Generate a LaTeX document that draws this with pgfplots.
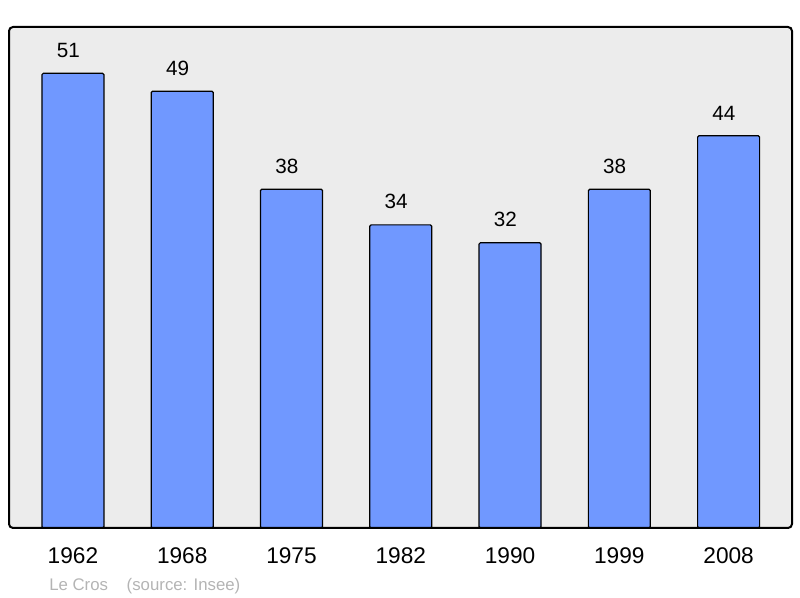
\documentclass[border=0pt]{standalone}
\usepackage{fontspec}
\setmainfont{Liberation Sans}
\usepackage{pgfplots}
\pgfplotsset{compat=1.18}
\usetikzlibrary{calc}
\definecolor{barblue}{HTML}{7098FF}
\definecolor{bggray}{HTML}{ECECEC}
\definecolor{footgray}{HTML}{B4B4B4}

\begin{document}
\begin{tikzpicture}
\begin{axis}[
    scale only axis,
    width=587.25pt, height=375.75pt,
    xmin=-0.585, xmax=6.58,
    ymin=0, ymax=56.2,
    axis line style={draw=none},
    axis background/.style={fill=bggray},
    ytick=\empty,
    xtick={0,...,6},
    xticklabels={1962,1968,1975,1982,1990,1999,2008},
    major tick length=0pt,
    xticklabel style={font=\fontsize{17}{20}\selectfont, yshift=-11pt},
    /pgf/number format/assume math mode=true,
    ybar, bar width=0.567,
    nodes near coords,
    every node near coord/.append style={font=\fontsize{15.5}{18}\selectfont, yshift=8pt, xshift=-3.5pt},
    clip=false,
]
\addplot[fill=barblue, draw=black, line width=0.9pt, rounded corners=1pt]
  coordinates {(0,51) (1,49) (2,38) (3,34) (4,32) (5,38) (6,44)};
\draw[line width=1.5pt, rounded corners=3pt] (rel axis cs:0,0) rectangle (rel axis cs:1,1);
\coordinate (sw) at (rel axis cs:0,0);
\coordinate (ne) at (rel axis cs:1,1);
\end{axis}
\node[anchor=west, text=footgray, font=\fontsize{12.6}{15}\selectfont, inner sep=0pt]
  at ($(sw)+(30pt,-43.5pt)$) {Le Cros\hspace{14pt}(source: Insee)};
\pgfresetboundingbox
\path[use as bounding box] ($(sw)+(-6.75pt,-52.5pt)$) rectangle ($(ne)+(6pt,20.25pt)$);
\end{tikzpicture}
\end{document}
